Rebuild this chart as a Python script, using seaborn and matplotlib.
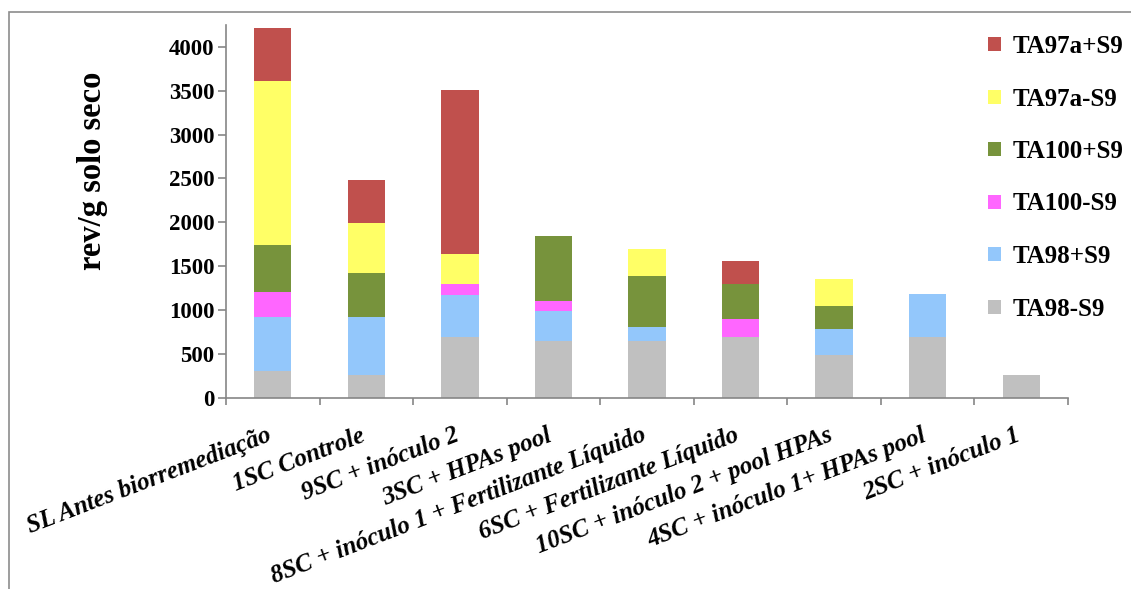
import numpy as np
import pandas as pd
import matplotlib
matplotlib.use("Agg")
import matplotlib.pyplot as plt
from matplotlib.patches import Patch, Rectangle
import seaborn as sns

# Soil treatments (x categories)
categories = [
    "SL Antes biorremediação",
    "1SC Controle",
    "9SC + inóculo 2",
    "3SC + HPAs pool",
    "8SC + inóculo 1 + Fertilizante Líquido",
    "6SC + Fertilizante Líquido",
    "10SC + inóculo 2 + pool HPAs",
    "4SC + inóculo 1+ HPAs pool",
    "2SC + inóculo 1",
]

# Revertants per gram of dry soil, one list per strain/condition (bottom to top of each stack)
ta98_minus = [300, 256, 693, 645, 650, 686, 485, 693, 256]
ta98_plus = [619, 658, 472, 346, 154, 0, 296, 484, 0]
ta100_minus = [285, 0, 126, 114, 0, 213, 0, 0, 0]
ta100_plus = [538, 509, 0, 737, 581, 392, 266, 0, 0]
ta97a_minus = [1868, 567, 342, 0, 308, 0, 308, 0, 0]
ta97a_plus = [601, 487, 1881, 0, 0, 265, 0, 0, 0]

series_names = ["TA98-S9", "TA98+S9", "TA100-S9", "TA100+S9", "TA97a-S9", "TA97a+S9"]
series_values = [ta98_minus, ta98_plus, ta100_minus, ta100_plus, ta97a_minus, ta97a_plus]
series_colors = ["#C0C0C0", "#93C7FB", "#FF66FF", "#77933C", "#FFFF66", "#C0504D"]

serif = ["Liberation Serif", "DejaVu Serif"]
plt.rcParams["font.family"] = serif
plt.rcParams["font.weight"] = "bold"

fig = plt.figure(figsize=(11.31, 5.89), dpi=100)
ax = fig.add_axes([226 / 1131, 191.5 / 589, (1068 - 226) / 1131, (397.5 - 25) / 589])

# Stacked bars: draw cumulative totals from the tallest layer down
df = pd.DataFrame(dict(zip(series_names, series_values)), index=categories)
cum = df.cumsum(axis=1)
for name, color in reversed(list(zip(series_names, series_colors))):
    sns.barplot(x=categories, y=cum[name].values, color=color, saturation=1,
                width=0.4, linewidth=0, ax=ax, zorder=2)

ax.set_ylim(0, 4250)
ax.set_xlim(-0.5, len(categories) - 0.5)
ax.set_yticks(np.arange(0, 4001, 500))
ax.set_yticklabels([f"{v}" for v in range(0, 4001, 500)], fontsize=16.5, fontweight="bold")

axis_grey = "#868686"
for side in ["top", "right"]:
    ax.spines[side].set_visible(False)
for side in ["left", "bottom"]:
    ax.spines[side].set_color(axis_grey)
    ax.spines[side].set_linewidth(1.2)

ax.tick_params(axis="y", direction="out", length=6, width=1.2, color=axis_grey, pad=2.5)
# Category boundaries carry the x tick marks; labels sit under bar centres
ax.set_xticks(np.arange(-0.5, len(categories), 1.0), minor=True)
ax.tick_params(axis="x", which="minor", direction="out", length=5, width=1.2, color=axis_grey)
ax.tick_params(axis="x", which="major", length=0, pad=31)
ax.set_xticks(range(len(categories)))
ax.set_xticklabels(categories, rotation=21, ha="right", va="baseline",
                   rotation_mode="anchor", fontsize=18, fontweight="bold",
                   fontstyle="italic")
ax.set_xlabel("")
ax.set_ylabel("rev/g solo seco", fontsize=23.5, fontweight="bold")
ax.yaxis.set_label_coords((92 - 226) / 842, (397.5 - 171) / 372.5)
ax.yaxis.label.set_va("center")

handles = [Patch(facecolor=c, edgecolor="none", label=n)
           for n, c in zip(series_names, series_colors)][::-1]
fig.legend(handles=handles, loc="upper left",
           bbox_to_anchor=(988 / 1131, 1 - 35 / 589),
           frameon=False, prop={"family": serif, "weight": "bold", "size": 18},
           handlelength=0.5, handleheight=0.5, handletextpad=0.5,
           labelspacing=1.18, borderpad=0, borderaxespad=0)

# Chart frame (left and top edges)
fig.add_artist(Rectangle((9 / 1131, -0.2), 1.2, 1.2 - 12 / 589,
                         transform=fig.transFigure, fill=False,
                         edgecolor="#8C8C8C", linewidth=1.2, clip_on=False))

fig.savefig("out.png", dpi=100, facecolor="white")
